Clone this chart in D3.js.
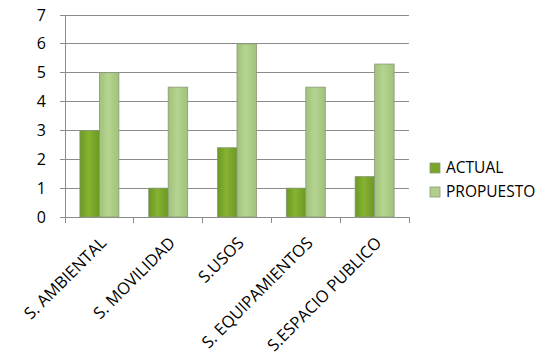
<!DOCTYPE html>
<html>
<head>
<meta charset="utf-8">
<script src="https://cdn.jsdelivr.net/npm/d3@7"></script>
<style>
  body { margin: 0; background: #fff; }
  svg text { font-family: "Open Sans", sans-serif; fill: #000; }
</style>
</head>
<body>
<div id="chart"></div>
<script>
// chart data
var categories = ["S. AMBIENTAL", "S. MOVILIDAD", "S.USOS", "S. EQUIPAMIENTOS", "S.ESPACIO PUBLICO"]
var actual = [3, 1, 2.4, 1, 1.4]
var propuesto = [5, 4.5, 6, 4.5, 5.3]
var seriesNames = ["ACTUAL", "PROPUESTO"]
var yTicks = [0, 1, 2, 3, 4, 5, 6, 7]

var w = 558, h = 358
var mLeft = 65, mRight = 409, mTop = 15, mBottom = 217

var svg = d3.select("#chart").append("svg").attr("width", w).attr("height", h)

var defs = svg.append("defs")
function grad(id, dark, light) {
  var g = defs.append("linearGradient").attr("id", id)
    .attr("x1", "0%").attr("x2", "100%").attr("y1", "0%").attr("y2", "0%")
  g.append("stop").attr("offset", "0%").attr("stop-color", dark)
  g.append("stop").attr("offset", "45%").attr("stop-color", light)
  g.append("stop").attr("offset", "100%").attr("stop-color", dark)
}
grad("gA", "#6b9822", "#86b332")
grad("gP", "#9fc278", "#b5d491")
var fills = ["url(#gA)", "url(#gP)"]
var legendFill = ["#7aa52a", "#b0d08a"]

var x = d3.scaleBand().domain(categories).range([mLeft, mRight]).paddingInner(0).paddingOuter(0)
var xs = d3.scaleBand().domain(seriesNames).range([0, 39])
var y = d3.scaleLinear().domain([0, 7]).range([mBottom, mTop])

// gridlines
svg.append("g").selectAll("line").data(yTicks).enter().append("line")
  .attr("x1", mLeft - 5).attr("x2", mRight)
  .attr("y1", function (d) { return y(d) }).attr("y2", function (d) { return y(d) })
  .attr("stroke", "#8c8c8c").attr("stroke-width", 1).attr("shape-rendering", "crispEdges")

// y axis
svg.append("line").attr("x1", mLeft).attr("x2", mLeft).attr("y1", mTop).attr("y2", mBottom)
  .attr("stroke", "#8c8c8c").attr("shape-rendering", "crispEdges")
svg.append("g").selectAll("text").data(yTicks).enter().append("text")
  .attr("x", 46).attr("y", function (d) { return y(d) })
  .attr("dy", "0.35em").attr("text-anchor", "end").attr("font-size", "16px")
  .text(function (d) { return d })

// x tick marks
var xTickPos = categories.map(function (c) { return x(c) }).concat([mRight])
svg.append("g").selectAll("line").data(xTickPos).enter().append("line")
  .attr("x1", function (d) { return d }).attr("x2", function (d) { return d })
  .attr("y1", mBottom).attr("y2", mBottom + 6)
  .attr("stroke", "#8c8c8c").attr("shape-rendering", "crispEdges")

// bars
var rows = categories.map(function (c, i) { return { cat: c, vals: [actual[i], propuesto[i]] } })
var grp = svg.append("g").selectAll("g").data(rows).enter().append("g")
  .attr("transform", function (d) { return "translate(" + (x(d.cat) + (x.bandwidth() - 39) / 2) + ",0)" })
grp.selectAll("rect").data(function (d) { return d.vals.map(function (v, j) { return { v: v, s: seriesNames[j], j: j } }) })
  .enter().append("rect")
  .attr("x", function (d) { return xs(d.s) })
  .attr("width", xs.bandwidth())
  .attr("y", function (d) { return y(d.v) })
  .attr("height", function (d) { return mBottom - y(d.v) })
  .attr("fill", function (d) { return fills[d.j] })
  .attr("stroke", "#8a9878").attr("stroke-width", 0.8)

// x labels rotated
svg.append("g").selectAll("text").data(categories).enter().append("text")
  .attr("transform", function (d) { return "translate(" + (x(d) + x.bandwidth() / 2 + 8) + "," + (mBottom + 27) + ") rotate(-45)" })
  .attr("text-anchor", "end").attr("font-size", "16.5px")
  .text(function (d) { return d })

// legend
var legend = svg.append("g").selectAll("g").data(seriesNames).enter().append("g")
  .attr("transform", function (d, i) { return "translate(430," + (163 + i * 24) + ")" })
legend.append("rect").attr("width", 10).attr("height", 10)
  .attr("fill", function (d, i) { return legendFill[i] }).attr("stroke", "#8a9878").attr("stroke-width", 0.8)
legend.append("text").attr("x", 16).attr("y", 5).attr("dy", "0.35em")
  .attr("font-size", "15.5px").text(function (d) { return d })
</script>
</body>
</html>
